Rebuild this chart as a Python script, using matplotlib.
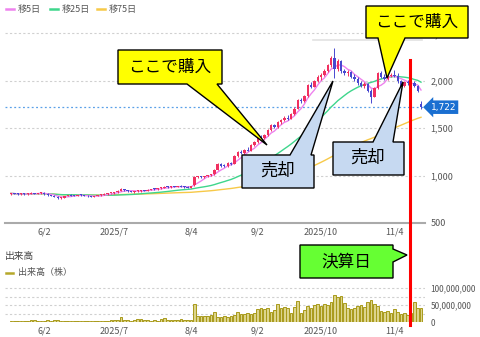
import matplotlib
matplotlib.use("Agg")
import matplotlib.pyplot as plt
from matplotlib.patches import Polygon
import numpy as np
import pandas as pd

plt.rcParams['font.family'] = ['Noto Sans CJK JP', 'DejaVu Sans']

# ---- data -------------------------------------------------------------
holidays = ["2025-07-21", "2025-08-11", "2025-09-15", "2025-09-23",
            "2025-10-13", "2025-11-03"]
dates = [d for d in pd.bdate_range("2025-05-19", "2025-11-14")
         if d.strftime("%Y-%m-%d") not in holidays]

opens = [805, 812, 808, 802, 808, 804, 810, 815, 810, 812,
         818, 805, 795, 785, 775, 760, 768, 785, 795, 790,
         785, 795, 792, 788, 780, 775, 785, 792, 800, 808,
         812, 815, 826, 838, 858, 845, 835, 828, 834, 840,
         845, 842, 852, 858, 855, 865, 872, 884, 878, 886,
         882, 888, 884, 878, 874, 900, 982, 988, 985, 994,
         1002, 1012, 1060, 1118, 1105, 1098, 1132, 1120, 1205, 1250,
         1235, 1272, 1262, 1320, 1352, 1408, 1395, 1430, 1478, 1532,
         1512, 1570, 1585, 1612, 1600, 1648, 1705, 1795, 1785, 1838,
         1955, 1940, 1998, 2045, 2065, 2105, 2165, 2240, 2120, 2210,
         2100, 2085, 2095, 2045, 2020, 1975, 1950, 1970, 1895, 1830,
         1920, 2080, 2045, 2020, 2055, 2065, 2050, 2000, 1945, 1985,
         1975, 1980, 1945, 1760]
highs = [818, 820, 815, 812, 815, 812, 822, 820, 818, 825,
         822, 812, 800, 792, 780, 772, 790, 800, 805, 798,
         800, 805, 800, 795, 790, 788, 798, 805, 812, 818,
         820, 830, 845, 865, 862, 850, 842, 838, 845, 850,
         852, 856, 862, 866, 868, 878, 888, 890, 890, 895,
         892, 896, 890, 886, 892, 1000, 995, 1000, 998, 1010,
         1020, 1070, 1130, 1135, 1125, 1140, 1145, 1215, 1262, 1268,
         1280, 1300, 1330, 1365, 1420, 1425, 1440, 1490, 1545, 1548,
         1580, 1600, 1625, 1635, 1660, 1720, 1810, 1820, 1850, 1970,
         1985, 2010, 2060, 2080, 2120, 2180, 2260, 2347, 2230, 2220,
         2130, 2110, 2100, 2070, 2045, 2000, 1985, 1975, 1910, 1935,
         2090, 2100, 2070, 2060, 2080, 2110, 2080, 2010, 1995, 2010,
         1995, 2000, 1960, 1790]
lows = [800, 805, 798, 795, 800, 798, 805, 806, 802, 808,
        800, 790, 780, 770, 755, 752, 765, 780, 785, 780,
        780, 788, 782, 775, 770, 770, 780, 788, 795, 800,
        805, 810, 820, 835, 840, 830, 822, 820, 828, 832,
        835, 838, 845, 848, 850, 860, 868, 872, 870, 878,
        875, 880, 872, 868, 870, 895, 970, 975, 978, 985,
        995, 1008, 1055, 1095, 1090, 1092, 1110, 1118, 1195, 1225,
        1228, 1255, 1258, 1310, 1345, 1380, 1385, 1420, 1470, 1500,
        1505, 1545, 1575, 1590, 1595, 1640, 1700, 1765, 1780, 1830,
        1920, 1930, 1985, 2010, 2050, 2095, 2150, 2030, 2100, 2080,
        2060, 2050, 2030, 2000, 1960, 1930, 1920, 1880, 1770, 1825,
        1915, 2030, 2005, 2010, 2040, 2040, 1980, 1905, 1935, 1960,
        1940, 1930, 1880, 1700]
close = [812, 808, 802, 808, 804, 810, 815, 810, 812, 818,
         805, 795, 785, 775, 760, 768, 785, 795, 790, 785,
         795, 792, 788, 780, 775, 785, 792, 800, 808, 812,
         815, 826, 838, 858, 845, 835, 828, 834, 840, 845,
         842, 852, 858, 855, 865, 872, 884, 878, 886, 882,
         888, 884, 878, 874, 886, 982, 988, 985, 994, 1002,
         1012, 1060, 1118, 1105, 1098, 1132, 1120, 1205, 1250, 1235,
         1272, 1262, 1320, 1352, 1408, 1395, 1430, 1478, 1532, 1512,
         1570, 1585, 1612, 1600, 1648, 1705, 1795, 1785, 1838, 1955,
         1940, 1998, 2045, 2065, 2105, 2165, 2240, 2120, 2210, 2100,
         2085, 2095, 2045, 2020, 1975, 1950, 1970, 1895, 1830, 1920,
         2080, 2045, 2020, 2055, 2065, 2050, 2000, 1945, 1985, 1975,
         1980, 1945, 1895, 1722]
volume_m = [4, 3, 3, 4, 3, 4, 6, 5, 4, 3,
            4, 5, 4, 5, 6, 4, 3, 4, 3, 3,
            4, 3, 3, 4, 3, 3, 4, 3, 4, 4,
            5, 6, 7, 14, 6, 5, 4, 6, 8, 8,
            7, 5, 4, 5, 4, 10, 11, 7, 6, 5,
            6, 8, 5, 6, 6, 53, 19, 18, 17, 19,
            20, 30, 16, 15, 17, 16, 18, 22, 29, 25,
            24, 26, 23, 28, 39, 40, 38, 41, 30, 36,
            53, 42, 45, 40, 28, 44, 61, 26, 35, 48,
            42, 50, 52, 48, 52, 50, 60, 81, 74, 76,
            55, 40, 39, 42, 47, 50, 44, 58, 66, 53,
            48, 33, 30, 32, 28, 37, 30, 24, 26, 22,
            28, 58, 40, 40]

price_ticks = [500, 1000, 1500, 2000, 2500]
vol_ticks = [0, 50, 100]
date_ticks = ["2025-06-02", "2025-07-01", "2025-08-04", "2025-09-02",
              "2025-10-01", "2025-11-04"]
date_labels = ["6/2", "2025/7", "8/4", "9/2", "2025/10", "11/4"]
last_price = 1722
earnings_day = "2025-11-11"

# ---- derived ----------------------------------------------------------
n = len(close)
idx = np.arange(n)
s = pd.Series(close, dtype=float)
ma5 = s.rolling(5, min_periods=1).mean()
ma25 = s.rolling(25, min_periods=1).mean()
ma75 = s.rolling(75, min_periods=1).mean()
date_str = [d.strftime("%Y-%m-%d") for d in dates]
tick_pos = [date_str.index(d) for d in date_ticks]
earn_pos = date_str.index(earnings_day)

# ---- figure ------------------------------------------------------------
W, H = 480, 337
fig = plt.figure(figsize=(W / 100, H / 100), dpi=100)
fig.patch.set_facecolor("white")


def fx(px):
    return px / W


def fy(py):
    return 1 - py / H


GRID = "#d0d0d0"
TXT = "#555555"
UP = "#f03060"
DOWN = "#4848d0"

# price panel
ax = fig.add_axes([fx(5), fy(223), fx(420), fy(22) - fy(223)])
ax.set_xlim(-1.8, n + 0.2)
ax.set_ylim(500, 2621)
for t in price_ticks[1:]:
    ax.axhline(t, color=GRID, lw=0.8, ls=(0, (2, 2)), zorder=0)

colors = [UP if c >= o else DOWN for o, c in zip(opens, close)]
ax.vlines(idx, lows, highs, colors=colors, lw=0.7, zorder=3)
bottoms = [min(o, c) for o, c in zip(opens, close)]
heights = [max(abs(c - o), 10) for o, c in zip(opens, close)]
ax.bar(idx, heights, bottom=bottoms, width=0.7, color=colors, zorder=4)

ax.plot(idx, ma75, color="#f7c948", lw=1.0, zorder=2)
ax.plot(idx, ma25, color="#3ed68c", lw=1.0, zorder=2)
ax.plot(idx, ma5, color="#ee82ee", lw=1.0, zorder=2)

ax.axhline(last_price, color="#5aa0e8", lw=0.9, ls=(0, (1.5, 2)), zorder=1)

for sp in ["top", "left", "right"]:
    ax.spines[sp].set_visible(False)
ax.spines["bottom"].set_color("#aaaaaa")
ax.spines["bottom"].set_linewidth(1.5)
ax.yaxis.tick_right()
ax.set_yticks(price_ticks)
ax.set_yticklabels([f"{t:,}" for t in price_ticks])
ax.tick_params(axis="y", length=0, pad=4, labelsize=6.5, labelcolor=TXT)
ax.set_xticks(tick_pos)
ax.set_xticklabels(date_labels)
ax.tick_params(axis="x", length=0, pad=3, labelsize=6.5, labelcolor=TXT)

# last price tag
ax.annotate(f"{last_price:,}", xy=(n + 0.6, last_price), xycoords="data",
            xytext=(3, 0), textcoords="offset points", ha="left", va="center",
            fontsize=6.5, color="white", family="DejaVu Sans",
            bbox=dict(boxstyle="larrow,pad=0.25", fc="#1a6fd1", ec="none"),
            annotation_clip=False, zorder=10)

# volume panel
vax = fig.add_axes([fx(5), fy(322), fx(420), fy(284) - fy(322)])
vax.set_xlim(-1.8, n + 0.2)
vax.set_ylim(0, 112)
for t in [25, 50, 75, 100]:
    vax.axhline(t, color=GRID, lw=0.8, ls=(0, (2, 2)), zorder=0)
vax.bar(idx, volume_m, width=0.75, color="#dcd48c", edgecolor="#a89a1a",
        linewidth=0.7, zorder=2)
for sp in ["top", "left", "right", "bottom"]:
    vax.spines[sp].set_visible(False)
vax.yaxis.tick_right()
vax.set_yticks(vol_ticks)
vax.set_yticklabels([f"{t * 1_000_000:,}" for t in vol_ticks])
vax.tick_params(axis="y", length=0, pad=4, labelsize=6, labelcolor=TXT)
vax.set_xticks(tick_pos)
vax.set_xticklabels(date_labels)
vax.tick_params(axis="x", length=0, pad=3, labelsize=6.5, labelcolor=TXT)

# legends
for x0, col, lab in [(6, "#ee82ee", "移5日"), (50, "#3ed68c", "移25日"),
                     (97, "#f7c948", "移75日")]:
    fig.add_artist(plt.Line2D([fx(x0), fx(x0 + 8)], [fy(9), fy(9)],
                              color=col, lw=1.8))
    fig.text(fx(x0 + 12), fy(9), lab, fontsize=6.5, color=TXT, va="center")
fig.text(fx(5), fy(256), "出来高", fontsize=7, color="#444444", va="center")
fig.add_artist(plt.Line2D([fx(6), fx(13)], [fy(273), fy(273)],
                          color="#b5a82a", lw=1.8))
fig.text(fx(18), fy(273), "出来高（株）", fontsize=6.5, color=TXT, va="center")

# faint separator under the top-right note
fig.add_artist(plt.Line2D([fx(313), fx(422)], [fy(40), fy(40)],
                          color="#e2e2e2", lw=1.2, zorder=5))

# earnings-day marker
fig.add_artist(plt.Line2D([fx(409.5), fx(409.5)], [fy(60), fy(325)],
                          color="#ff0000", lw=2.2, zorder=20))


def callout(pts_px, fc, text, tx, ty, size=12):
    poly = Polygon([(fx(x), fy(y)) for x, y in pts_px], closed=True,
                   transform=fig.transFigure, fc=fc, ec="black", lw=1.0,
                   zorder=30)
    fig.add_artist(poly)
    fig.text(fx(tx), fy(ty), text, ha="center", va="center", fontsize=size,
             color="black", zorder=31)


# ここで購入 (left)
callout([(118, 50), (222, 50), (222, 84), (217, 84), (267, 145),
         (187, 84), (118, 84)], "#ffff00", "ここで購入", 170, 67)
# ここで購入 (right)
callout([(366, 6), (468, 6), (468, 38), (405, 38), (387, 78),
         (378, 38), (366, 38)], "#ffff00", "ここで購入", 417, 22)
# 売却 (left)
callout([(242, 155), (290, 155), (333, 81), (311, 155), (314, 155),
         (314, 188), (242, 188)], "#c6d9f1", "売却", 278, 171, 12.5)
# 売却 (right)
callout([(333, 142), (373, 142), (403, 82), (393, 142), (404, 142),
         (404, 175), (333, 175)], "#c6d9f1", "売却", 368, 158, 12.5)
# 決算日
callout([(300, 245), (393, 245), (393, 249), (407, 255), (393, 262),
         (393, 278), (300, 278)], "#66ff33", "決算日", 346, 262)

fig.savefig("out.png", dpi=100)
